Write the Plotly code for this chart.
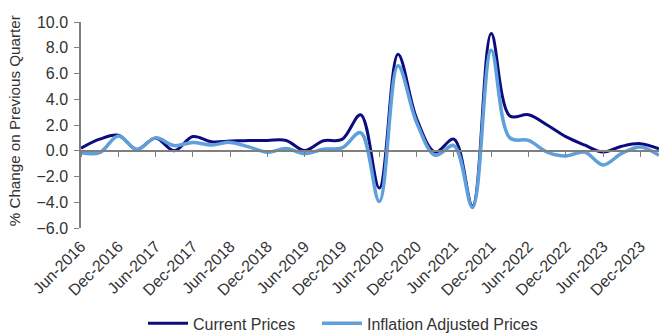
import plotly.graph_objects as go

# Quarterly % change on previous quarter, Jun-2016 .. Mar-2024
quarters = [
    "Jun-2016", "Sep-2016", "Dec-2016", "Mar-2017",
    "Jun-2017", "Sep-2017", "Dec-2017", "Mar-2018",
    "Jun-2018", "Sep-2018", "Dec-2018", "Mar-2019",
    "Jun-2019", "Sep-2019", "Dec-2019", "Mar-2020",
    "Jun-2020", "Sep-2020", "Dec-2020", "Mar-2021",
    "Jun-2021", "Sep-2021", "Dec-2021", "Mar-2022",
    "Jun-2022", "Sep-2022", "Dec-2022", "Mar-2023",
    "Jun-2023", "Sep-2023", "Dec-2023", "Mar-2024",
]

current_prices = [
    0.2, 0.9, 1.2, 0.1,
    1.0, 0.0, 1.1, 0.7,
    0.75, 0.8, 0.8, 0.8,
    0.02, 0.78, 0.88, 2.8,
    -2.9, 7.5, 2.5, -0.1,
    0.9, -4.3, 9.1, 2.7,
    2.8, 2.0, 1.1, 0.45,
    -0.1, 0.35, 0.55, 0.15,
]

inflation_adjusted = [
    -0.15, -0.15, 1.15, 0.1,
    1.0, 0.4, 0.65, 0.45,
    0.65, 0.3, -0.12, 0.18,
    -0.22, 0.12, 0.22, 1.4,
    -3.95, 6.6, 2.2, -0.35,
    0.4, -4.4, 7.8, 1.0,
    0.8, -0.1, -0.4, -0.1,
    -1.1, -0.2, 0.3, -0.35,
]

# Labels shown every second quarter
label_idx = list(range(0, len(quarters) - 1, 2))
label_text = [quarters[i] for i in label_idx]

FONT = "Liberation Sans, Arial, sans-serif"
TEXT_COL = "#333333"
AXIS_COL = "#7f7f7f"

x = list(range(len(quarters)))

fig = go.Figure()
fig.add_trace(go.Scatter(
    x=x, y=current_prices, name="Current Prices", mode="lines",
    line=dict(color="#0c0c80", width=3, shape="spline", smoothing=1.0),
    hovertext=quarters, legend="legend",
))
fig.add_trace(go.Scatter(
    x=x, y=inflation_adjusted, name="Inflation Adjusted Prices", mode="lines",
    line=dict(color="#5fa0da", width=3.5, shape="spline", smoothing=1.0),
    hovertext=quarters, legend="legend2",
))

legend_common = dict(
    orientation="h", xanchor="left", y=-0.463, yanchor="middle",
    font=dict(size=16, color=TEXT_COL), itemwidth=40,
    bgcolor="rgba(0,0,0,0)",
)

fig.update_layout(
    width=659, height=334,
    margin=dict(l=81, r=0, t=22, b=106, autoexpand=False),
    paper_bgcolor="white", plot_bgcolor="white",
    font=dict(family=FONT, size=16, color=TEXT_COL),
    showlegend=True,
    legend=dict(x=(143 - 81) / 578, **legend_common),
    legend2=dict(x=(317 - 81) / 578, **legend_common),
    xaxis=dict(
        range=[0, len(quarters) - 1], automargin=False,
        tickmode="array", tickvals=label_idx, ticktext=label_text,
        tickangle=-45, ticks="", showline=False, showgrid=False,
        zeroline=False, ticklabelstandoff=5,
        tickfont=dict(size=16, color=TEXT_COL),
    ),
    # category axis drawn through zero, tick marks only
    xaxis2=dict(
        overlaying="x", anchor="free", position=0.375, side="bottom",
        range=[0, len(quarters) - 1], automargin=False,
        tickmode="array", tickvals=label_idx,
        ticks="outside", ticklen=5, tickwidth=1, tickcolor=AXIS_COL,
        showline=True, linecolor=AXIS_COL, linewidth=1.5,
        showticklabels=False, showgrid=False, zeroline=False,
    ),
    yaxis=dict(
        range=[-6, 10], automargin=False, tickmode="array",
        tickvals=[-6, -4, -2, 0, 2, 4, 6, 8, 10],
        tickformat=".1f",
        ticks="outside", ticklen=5, tickwidth=1, tickcolor=AXIS_COL,
        showline=True, linecolor=AXIS_COL, linewidth=1.5,
        showgrid=False, zeroline=False, ticklabelstandoff=3,
        tickfont=dict(size=16, color=TEXT_COL),
    ),
    annotations=[dict(
        text="% Change on Previous Quarter", textangle=-90,
        xref="paper", yref="paper", x=(14 - 81) / 578, y=0.518,
        xanchor="center", yanchor="middle", showarrow=False,
        font=dict(size=15.2, color=TEXT_COL, family=FONT),
    )],
)

# invisible trace to bring the second x axis into the layout
fig.add_trace(go.Scatter(x=[0], y=[0], xaxis="x2", mode="markers",
                         marker=dict(opacity=0), showlegend=False,
                         hoverinfo="skip"))

fig.write_html("out.html")
